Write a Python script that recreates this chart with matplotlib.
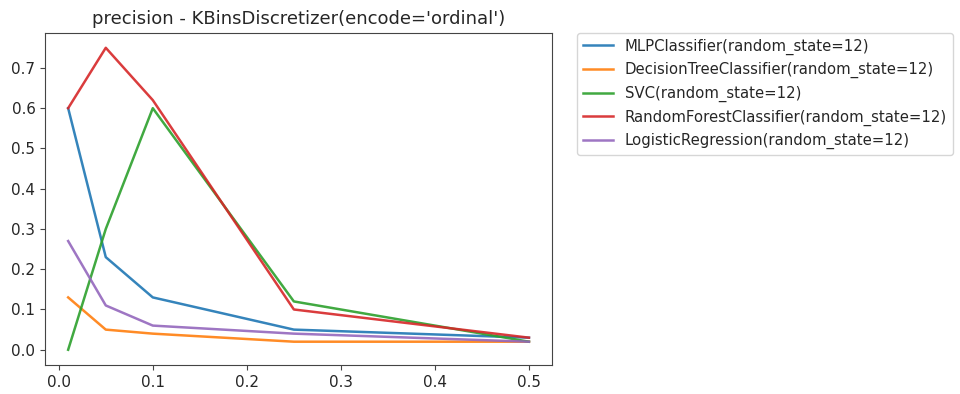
import matplotlib
matplotlib.use("Agg")
import matplotlib.pyplot as plt

x = [0.01, 0.05, 0.1, 0.25, 0.5]
labels = ["MLPClassifier(random_state=12)",
          "DecisionTreeClassifier(random_state=12)",
          "SVC(random_state=12)",
          "RandomForestClassifier(random_state=12)",
          "LogisticRegression(random_state=12)"]
mlp = [0.60, 0.23, 0.13, 0.05, 0.03]
dt = [0.13, 0.05, 0.04, 0.02, 0.02]
svc = [0.0, 0.30, 0.60, 0.12, 0.02]
rf = [0.60, 0.75, 0.62, 0.10, 0.03]
lr = [0.27, 0.11, 0.06, 0.04, 0.02]

plt.rcParams['font.size'] = 10.9
plt.rcParams['axes.titlesize'] = 13
plt.rcParams['legend.fontsize'] = 10.7
plt.rcParams['text.color'] = '#262626'
plt.rcParams['xtick.labelcolor'] = '#262626'
plt.rcParams['ytick.labelcolor'] = '#262626'
plt.rcParams['axes.edgecolor'] = '#444444'
plt.rcParams['xtick.color'] = '#444444'
plt.rcParams['ytick.color'] = '#444444'

fig = plt.figure(figsize=(9.6, 3.94), dpi=100)
ax = fig.add_axes([0.047, 0.074, 0.528, 0.843])
for vals, lab in zip([mlp, dt, svc, rf, lr], labels):
    ax.plot(x, vals, label=lab, lw=1.8, alpha=0.9)
ax.set_title("precision - KBinsDiscretizer(encode='ordinal')")
ax.legend(bbox_to_anchor=(1.05, 1), loc='upper left', borderaxespad=0.)
fig.savefig("out.png", dpi=100)
